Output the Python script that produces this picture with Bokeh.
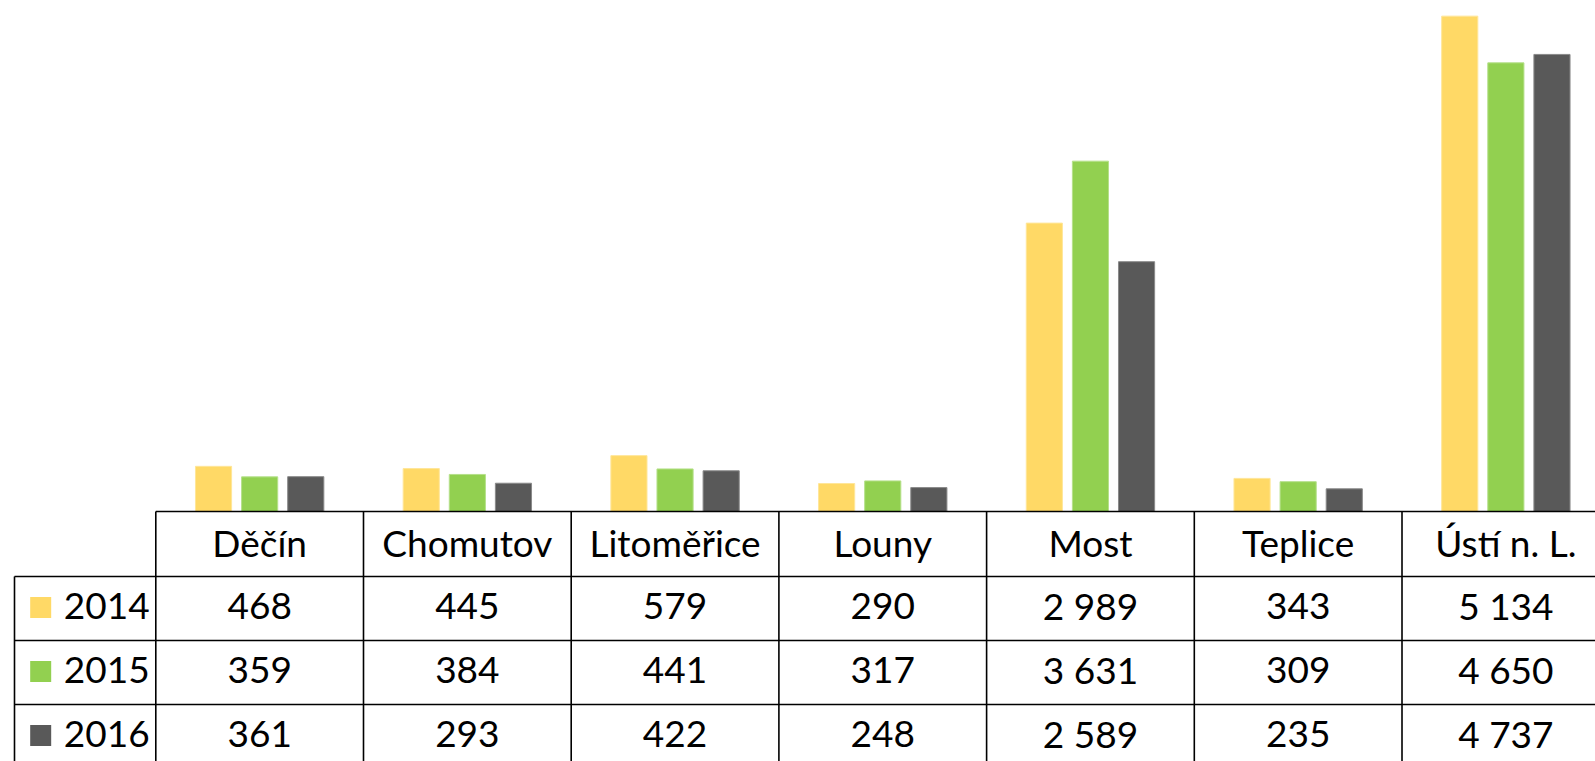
from bokeh.plotting import figure
from bokeh.models import Range1d, ColumnDataSource
from bokeh.transform import dodge
from bokeh.core.properties import value
from bokeh.embed import file_html
from bokeh.resources import INLINE

# ---- data ----
districts = ["Děčín", "Chomutov", "Litoměřice", "Louny", "Most", "Teplice", "Ústí n. L."]
years = ["2014", "2015", "2016"]
v2014 = [468, 445, 579, 290, 2989, 343, 5134]
v2015 = [359, 384, 441, 317, 3631, 309, 4650]
v2016 = [361, 293, 422, 248, 2589, 235, 4737]
colors = ["#FFD966", "#92D050", "#595959"]
edge_colors = ["#FFE699", "#B5E08A", "#8A8A8A"]

FONT = value("Lato")
FS = "37px"

idx = list(range(len(districts)))
src = ColumnDataSource(dict(idx=idx, y2014=v2014, y2015=v2015, y2016=v2016))

W, H = 1595, 761
p = figure(width=W, height=H, output_backend="svg", toolbar_location=None,
           x_range=Range1d(-1.2477, 6.4316), y_range=Range1d(-2591, 5296),
           min_border=0, min_border_left=0, min_border_right=0,
           min_border_top=0, min_border_bottom=0)
p.extra_y_ranges = {"tab": Range1d(-250, 511)}
p.xaxis.visible = False
p.yaxis.visible = False
p.grid.visible = False
p.outline_line_color = None
p.background_fill_color = "white"
p.border_fill_color = "white"

# ---- bars ----
offsets = [-0.222, 0.0, 0.222]
for col, off, c, ec in zip(["y2014", "y2015", "y2016"], offsets, colors, edge_colors):
    p.vbar(x=dodge("idx", off, range=p.x_range), top=col, bottom=0, width=0.174,
           source=src, fill_color=c, line_color=ec, line_width=1)

# ---- data table ----
n = len(districts)
left_edge = -1.1803
right_edge = n + 0.2
row_y = [0, -65, -129, -193, -257]   # table row boundaries (px below baseline)
LW = 1.6
# horizontal lines
p.segment(x0=[-0.5], x1=[right_edge], y0=[row_y[0]], y1=[row_y[0]],
          line_color="black", line_width=LW, y_range_name="tab")
p.segment(x0=[left_edge] * 3, x1=[right_edge] * 3, y0=row_y[1:4], y1=row_y[1:4],
          line_color="black", line_width=LW, y_range_name="tab")
# vertical lines
bounds = [i - 0.5 for i in range(n + 1)]
p.segment(x0=bounds, x1=bounds, y0=[row_y[0]] * len(bounds), y1=[row_y[4]] * len(bounds),
          line_color="black", line_width=LW, y_range_name="tab")
p.segment(x0=[left_edge], x1=[left_edge], y0=[row_y[1]], y1=[row_y[4]],
          line_color="black", line_width=LW, y_range_name="tab")

# header labels
p.text(x=idx, y=[(row_y[0] + row_y[1]) / 2 + 2] * n, text=districts,
       text_font=FONT, text_font_size=FS, text_color="black",
       text_align="center", text_baseline="middle", y_range_name="tab")

def fmt(v):
    return f"{v:,}".replace(",", " ")

for r, (yr, vals, c) in enumerate(zip(years, [v2014, v2015, v2016], colors)):
    yc = (row_y[r + 1] + row_y[r + 2]) / 2 + 3
    p.text(x=idx, y=[yc] * n, text=[fmt(v) for v in vals],
           text_font=FONT, text_font_size=FS, text_color="black",
           text_align="center", text_baseline="middle", y_range_name="tab")
    p.scatter(x=[-1.0542], y=[yc - 2], marker="square", size=21,
              fill_color=c, line_color=None, y_range_name="tab")
    p.text(x=[-0.943], y=[yc], text=[yr],
           text_font=FONT, text_font_size=FS, text_color="black",
           text_align="left", text_baseline="middle", y_range_name="tab")

open("out.html", "w").write(file_html(p, INLINE))
